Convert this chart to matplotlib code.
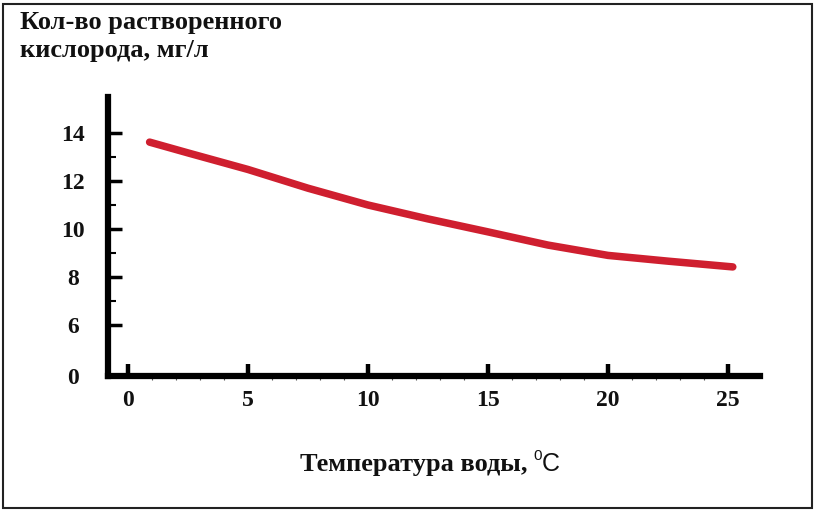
import numpy as np
import matplotlib.pyplot as plt
from matplotlib.patches import Rectangle

# ------------------- data ---------------------------------------------- #
temp_c = [0.9, 2.5, 5, 7.5, 10, 12.5, 15, 17.5, 20, 22.5, 25.2]
oxygen = [13.62, 13.17, 12.48, 11.7, 11.0, 10.42, 9.88, 9.33, 8.9, 8.66, 8.42]

x_ticks = [0, 5, 10, 15, 20, 25]
y_ticks = [3.875, 6, 8, 10, 12, 14]        # "0" sits on the broken axis
y_tick_labels = ["0", "6", "8", "10", "12", "14"]

title_lines = ["Кол-во растворенного", "кислорода, мг/л"]
xlabel_text = "Температура воды,"

# ------------------- style --------------------------------------------- #
LINE_COLOR = "#cf1f2f"
TEXT_COLOR = "#111111"
SERIF = ["Liberation Serif", "DejaVu Serif"]
SANS = ["Liberation Sans", "DejaVu Sans"]

W, H = 816, 512
fig = plt.figure(figsize=(W / 100, H / 100), dpi=100)
fig.patch.set_facecolor("white")

# axes box in pixels: y-spine at x=108, x-spine at y=376, top at y=97
ax = fig.add_axes([108 / W, 1 - 376 / H, (760 - 108) / W, (376 - 97) / H])
ax.set_xlim(-20 / 24, 632 / 24)
ax.set_ylim(3.875, 15.5)

ax.plot(temp_c, oxygen, color=LINE_COLOR, lw=5.4, solid_capstyle="round",
        solid_joinstyle="round")

for s in ("top", "right"):
    ax.spines[s].set_visible(False)
for s in ("left", "bottom"):
    ax.spines[s].set_linewidth(4.5)
    ax.spines[s].set_color("black")
    ax.spines[s].set_capstyle("projecting")

ax.set_xticks(x_ticks)
ax.set_xticks(np.arange(1, 26), minor=True)
ax.set_yticks(y_ticks)
ax.set_yticklabels(y_tick_labels)
ax.set_yticks([7, 9, 11, 13], minor=True)

ax.tick_params(axis="x", which="major", direction="in", length=9, width=3.2,
               pad=10, labelsize=17, colors="black")
ax.tick_params(axis="x", which="minor", direction="out", length=3, width=0.8,
               color="#555555")
ax.tick_params(axis="y", which="major", direction="in", length=10, width=2.5,
               pad=25, labelsize=17)
ax.tick_params(axis="y", which="minor", direction="in", length=6, width=1.5)
ax.yaxis.get_major_ticks()[0].tick1line.set_visible(False)

for lab in ax.get_xticklabels() + ax.get_yticklabels():
    lab.set_family(SERIF)
    lab.set_fontweight("bold")
    lab.set_color(TEXT_COLOR)
for lab in ax.get_yticklabels():
    lab.set_horizontalalignment("center")

# two-line title at top left
fig.text(20 / W, 1 - 29 / H, title_lines[0], family=SERIF, fontweight="bold",
         fontsize=19, color=TEXT_COLOR, va="baseline", ha="left")
fig.text(20 / W, 1 - 57 / H, title_lines[1], family=SERIF, fontweight="bold",
         fontsize=19, color=TEXT_COLOR, va="baseline", ha="left")

# x label: bold serif text followed by a sans "°C"
fig.text(527 / W, 1 - 471 / H, xlabel_text, family=SERIF, fontweight="bold",
         fontsize=19, color=TEXT_COLOR, va="baseline", ha="right")
fig.text(533 / W, 1 - 460 / H, "0", family=SANS, fontsize=11,
         color=TEXT_COLOR, va="baseline", ha="left")
fig.text(542 / W, 1 - 471 / H, "C", family=SANS, fontsize=18,
         color=TEXT_COLOR, va="baseline", ha="left")

# thin frame around the whole picture
fig.add_artist(Rectangle((3 / W, 4 / H), (812 - 3) / W, (508 - 4) / H,
                         transform=fig.transFigure, fill=False,
                         edgecolor="#222222", lw=1.5))

fig.savefig("out.png", dpi=100)
